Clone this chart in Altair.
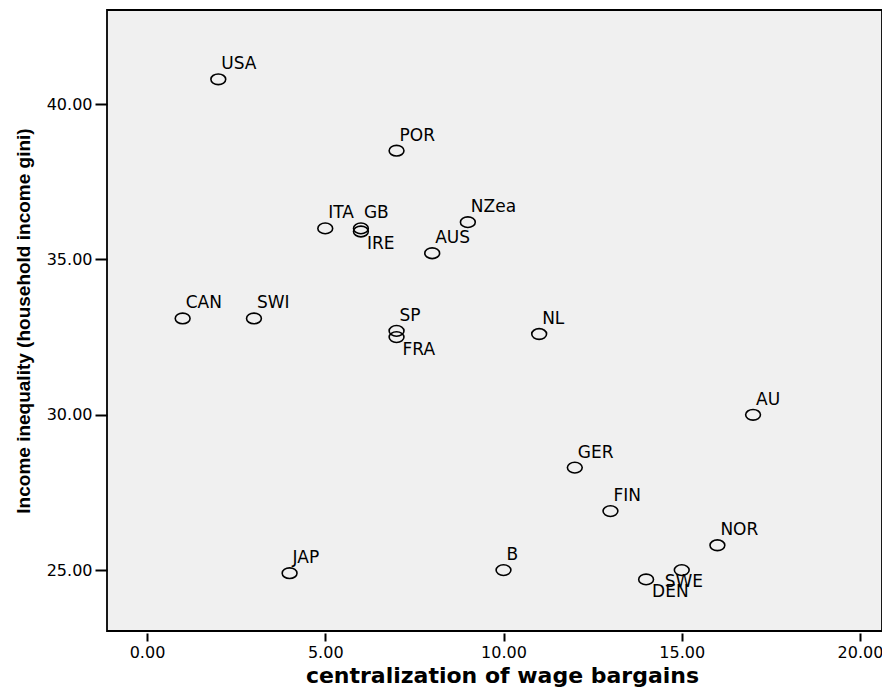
import altair as alt
import pandas as pd

countries = ["USA", "POR", "ITA", "GB", "IRE", "NZea", "AUS", "CAN", "SWI", "SP", "FRA",
             "NL", "AU", "GER", "FIN", "NOR", "JAP", "B", "SWE", "DEN"]
centralization = [2, 7, 5, 6, 6, 9, 8, 1, 3, 7, 7, 11, 17, 12, 13, 16, 4, 10, 15, 14]
gini = [40.8, 38.5, 36.0, 36.0, 35.9, 36.2, 35.2, 33.1, 33.1, 32.7, 32.5,
        32.6, 30.0, 28.3, 26.9, 25.8, 24.9, 25.0, 25.0, 24.7]
label_side = ["ne", "ne", "ne", "ne", "se", "ne", "ne", "ne", "ne", "ne", "se",
              "ne", "ne", "ne", "ne", "ne", "ne", "ne", "s", "se"]

x_ticks = [0, 5, 10, 15, 20]
y_ticks = [25, 30, 35, 40]

df = pd.DataFrame({"country": countries, "x": centralization, "y": gini, "side": label_side})

FONT = "DejaVu Sans"
LFS = 17
TFS = 16

xenc = alt.X("x:Q", title="centralization of wage bargains",
             scale=alt.Scale(domain=[-1.122, 20.617], nice=False, zero=False),
             axis=alt.Axis(values=x_ticks, format=".2f", domain=False, grid=False,
                           tickSize=8, offset=2, tickColor="black", tickWidth=2,
                           labelPadding=3, titleX=395, titleY=49,
                           titleAlign="center", titleBaseline="alphabetic",
                           labelFont=FONT, labelFontSize=TFS, labelColor="black",
                           titleFont="DejaVu Sans", titleFontSize=22, titleFontWeight="bold",
                           titleColor="black"))
yenc = alt.Y("y:Q", title="Income inequality (household income gini)",
             scale=alt.Scale(domain=[23.04, 43.03], nice=False, zero=False),
             axis=alt.Axis(values=y_ticks, format=".2f", domain=False, grid=False,
                           tickSize=12, tickColor="black", tickWidth=2,
                           labelPadding=3, titlePadding=13,
                           labelFont=FONT, labelFontSize=TFS, labelColor="black",
                           titleFont="Liberation Sans", titleFontSize=19, titleFontWeight="bold",
                           titleColor="black"))

base = alt.Chart(df).encode(x=xenc, y=yenc)

ellipse = "M-1,0A1,0.72,0,1,0,1,0A1,0.72,0,1,0,-1,0Z"
points = base.mark_point(shape=ellipse, filled=False, size=220, color="black",
                         strokeWidth=1.6, opacity=1)

lab_ne = base.transform_filter(alt.datum.side == "ne").mark_text(
    align="left", baseline="middle", dx=3, dy=-15, fontSize=LFS, font=FONT, color="black"
).encode(text="country:N")
lab_se = base.transform_filter(alt.datum.side == "se").mark_text(
    align="left", baseline="middle", dx=6, dy=13, fontSize=LFS, font=FONT, color="black"
).encode(text="country:N")
lab_s = base.transform_filter(alt.datum.side == "s").mark_text(
    align="left", baseline="middle", dx=-17, dy=12, fontSize=LFS, font=FONT, color="black"
).encode(text="country:N")

chart = alt.layer(points, lab_ne, lab_se, lab_s).properties(
    width=775, height=621,
    background="white",
    autosize=alt.AutoSizeParams(type="none"),
    padding={"left": 99, "top": 2, "right": 0, "bottom": 56},
).configure_view(
    fill="#F0F0F0", stroke="black", strokeWidth=1.8
)

chart.save("out.html", embed_options={"renderer": "svg", "actions": False})
